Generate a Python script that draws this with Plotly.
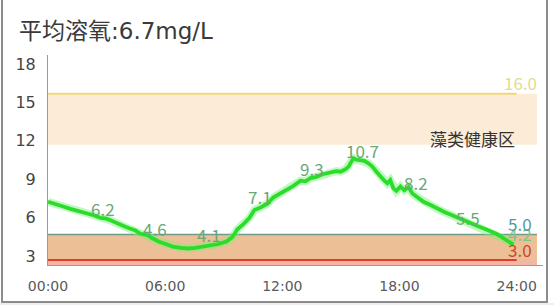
import plotly.graph_objects as go

# ---------------- data ----------------
title_text = "平均溶氧:6.7mg/L"

hours = [0.00, 0.38, 0.74, 1.15, 1.56, 1.97, 2.33, 2.69, 2.94, 3.20, 3.46, 3.81,
         4.12, 4.48, 4.74, 5.09, 5.35, 5.66, 6.02, 6.38, 6.79, 7.20, 7.55, 7.91,
         8.32, 8.73, 9.14, 9.45, 9.70, 10.01, 10.32, 10.57, 10.88, 11.24, 11.55,
         11.91, 12.26, 12.57, 12.93, 13.19, 13.44, 13.75, 14.06, 14.46, 14.77,
         14.98, 15.24, 15.39, 15.54, 15.64, 15.80, 16.00, 16.20, 16.41, 16.61,
         16.82, 17.02, 17.23, 17.38, 17.53, 17.69, 17.84, 18.05, 18.25, 18.46,
         18.66, 18.92, 19.23, 19.59, 19.94, 20.30, 20.61, 20.97, 21.27, 21.63,
         21.99, 22.35, 22.66, 22.96, 23.22, 23.42, 23.64, 23.84]
oxygen = [7.55, 7.40, 7.20, 7.00, 6.85, 6.70, 6.50, 6.30, 6.25, 6.10, 5.90, 5.70,
          5.50, 5.30, 5.05, 4.95, 4.70, 4.45, 4.25, 4.05, 3.95, 3.90, 3.95, 4.05,
          4.10, 4.25, 4.45, 4.80, 5.40, 5.80, 6.30, 6.90, 7.10, 7.40, 7.90,
          8.20, 8.50, 8.80, 9.20, 9.15, 9.40, 9.50, 9.70, 9.80, 9.95,
          9.90, 10.10, 10.30, 10.70, 10.95, 10.85, 10.80, 10.75, 10.55, 10.30,
          9.90, 9.50, 9.20, 9.00, 9.25, 8.60, 8.40, 8.75, 8.45, 8.70,
          8.20, 7.90, 7.55, 7.30, 7.00, 6.75, 6.55, 6.30, 6.10, 5.85,
          5.65, 5.45, 5.25, 5.05, 4.80, 4.60, 4.40, 4.20]

label_times = [2.84, 5.50, 8.22, 10.88, 13.54, 16.10, 18.87, 21.53, 24.19]
label_values = [6.2, 4.6, 4.1, 7.1, 9.3, 10.7, 8.2, 5.5, 4.2]

upper_limit = 16.0      # yellow line
algae_low = 12.0        # bottom of algae-healthy band
lower_limit = 5.0       # teal line
critical = 3.0          # red line
zone_label = "藻类健康区"

x_tickvals = [0, 6, 12, 18, 24]
x_ticktext = ["00:00", "06:00", "12:00", "18:00", "24:00"]
y_tickvals = [3, 6, 9, 12, 15, 18]

# ---------------- layout constants ----------------
W, H = 554, 305
ML, MR, MT, MB = 48, 11, 55, 40
XMAX = 25.35
YMIN, YMAX = 2.61, 19.02
BAND_END = 25.04
LINE_END = 24.0
pw, ph = W - ML - MR, H - MT - MB


def px(xp):
    return (xp - ML) / pw


def py(yp):
    return (H - MB - yp) / ph


LAT = "DejaVu Sans, Noto Sans CJK SC"
CJK = "Noto Sans CJK SC"

fig = go.Figure()

# glow + main line
fig.add_trace(go.Scatter(x=hours, y=oxygen, mode="lines",
                         line=dict(color="rgba(120,240,120,0.45)", width=8),
                         hoverinfo="skip", showlegend=False))
fig.add_trace(go.Scatter(x=hours, y=oxygen, mode="lines",
                         line=dict(color="#2bdc2b", width=3.8),
                         showlegend=False))

shapes = []
# upper algae band
shapes.append(dict(type="rect", xref="x", yref="y", x0=0, x1=BAND_END,
                   y0=algae_low, y1=upper_limit, fillcolor="#fbebd7",
                   line=dict(width=0), layer="below"))
shapes.append(dict(type="line", xref="x", yref="y", x0=0, x1=LINE_END,
                   y0=upper_limit, y1=upper_limit,
                   line=dict(color="#f2d77a", width=2), layer="below"))
# lower band
shapes.append(dict(type="rect", xref="x", yref="y", x0=0, x1=BAND_END,
                   y0=YMIN, y1=lower_limit, fillcolor="#edbf96",
                   line=dict(width=0), layer="below"))
shapes.append(dict(type="rect", xref="x", yref="y", x0=0, x1=BAND_END,
                   y0=YMIN, y1=critical, fillcolor="#f1b7a4",
                   line=dict(width=0), layer="below"))
shapes.append(dict(type="line", xref="x", yref="y", x0=0, x1=BAND_END,
                   y0=lower_limit, y1=lower_limit,
                   line=dict(color="#6f9d8c", width=1.5), layer="below"))
shapes.append(dict(type="line", xref="x", yref="y", x0=0, x1=LINE_END,
                   y0=critical, y1=critical,
                   line=dict(color="#e23b35", width=2.2), layer="below"))
# image frame
shapes.append(dict(type="rect", xref="paper", yref="paper",
                   x0=px(0), x1=px(W), y0=py(H + 2), y1=py(303),
                   fillcolor="#eeeeee", line=dict(width=0)))
shapes.append(dict(type="rect", xref="paper", yref="paper",
                   x0=px(2), x1=px(547), y0=py(302), y1=py(-5),
                   line=dict(color="#8c8c8c", width=2)))

annotations = []
green_txt = "#6aa878"
for t, v in zip(label_times[:-1], label_values[:-1]):
    annotations.append(dict(x=t, y=v, xref="x", yref="y", text=f"{v:.1f}",
                            showarrow=False, yshift=11,
                            font=dict(family=CJK, size=17, color=green_txt)))
annotations.append(dict(x=label_times[-1], y=label_values[-1], xref="x", yref="y",
                        text=f"{label_values[-1]:.1f}", showarrow=False, yshift=11,
                        font=dict(family=CJK, size=17, color="#86c486")))
for val, col in [(upper_limit, "#e6da8e"), (lower_limit, "#4f9aa6"), (critical, "#c8482a")]:
    annotations.append(dict(x=label_times[-1], y=val, xref="x", yref="y",
                            text=f"{val:.1f}", showarrow=False, yshift=11,
                            font=dict(family=CJK, size=17, color=col)))
annotations.append(dict(x=21.73, y=algae_low, xref="x", yref="y", text=zone_label,
                        showarrow=False, yshift=6.5,
                        font=dict(family=CJK, size=17, color="#333333")))
annotations.append(dict(x=px(17), y=py(31), xref="paper", yref="paper",
                        text=title_text, showarrow=False, xanchor="left",
                        yanchor="middle",
                        font=dict(family=LAT, size=23, color="#3a3a3a")))

fig.update_layout(
    width=W, height=H,
    margin=dict(l=ML, r=MR, t=MT, b=MB, pad=0),
    paper_bgcolor="white", plot_bgcolor="white",
    shapes=shapes, annotations=annotations,
    xaxis=dict(range=[0, XMAX], tickvals=x_tickvals, ticktext=x_ticktext,
               showgrid=False, zeroline=False, showline=True,
               linecolor="#9a9a9a", linewidth=1, ticks="",
               ticklabelstandoff=8,
               tickfont=dict(family=LAT, size=14, color="#5a5a5a")),
    yaxis=dict(range=[YMIN, YMAX], tickvals=y_tickvals,
               showgrid=False, zeroline=False, showline=True,
               linecolor="#9a9a9a", linewidth=1, ticks="",
               ticklabelshift=-4, ticklabelstandoff=8,
               tickfont=dict(family=LAT, size=16, color="#444444")),
)

fig.write_html("out.html")
